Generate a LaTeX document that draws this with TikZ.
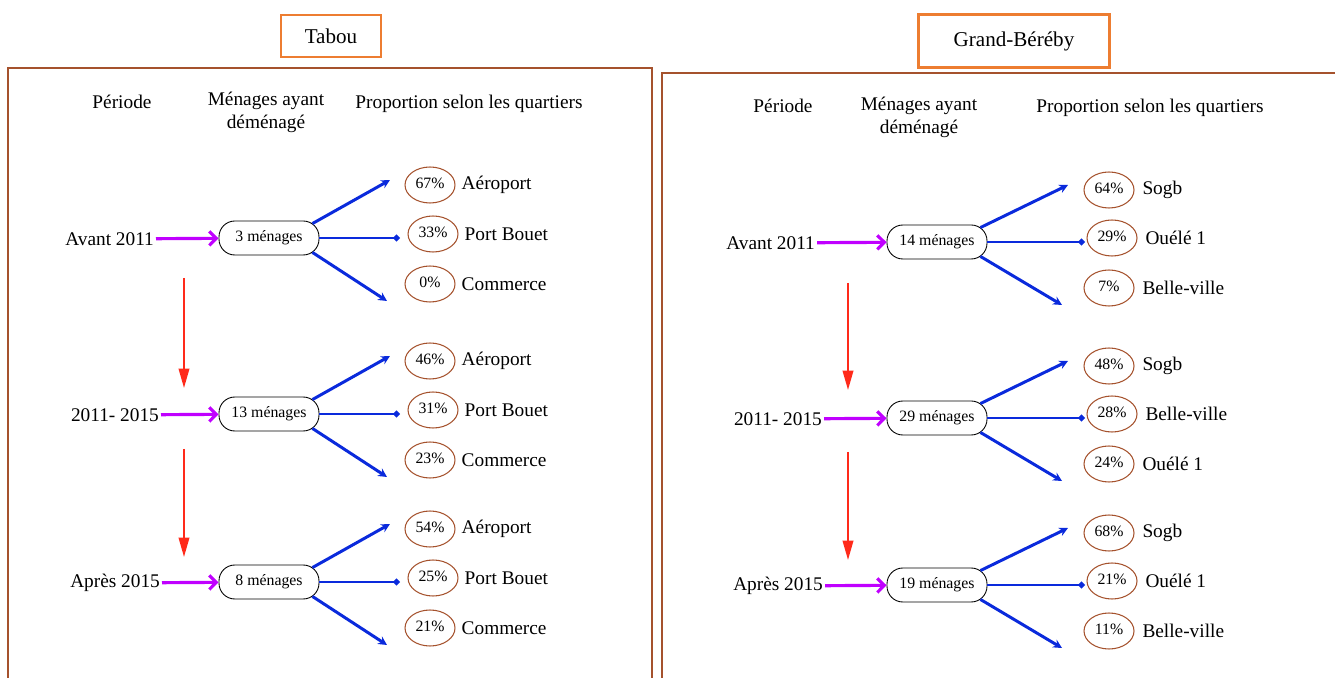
\documentclass[tikz,border=0pt]{standalone}
\usepackage{fontspec}
\setmainfont{Liberation Serif}
\usetikzlibrary{arrows.meta,positioning,shapes.geometric,calc}
\definecolor{frameBrown}{HTML}{A5522D}
\definecolor{boxOrange}{HTML}{ED7D31}
\definecolor{arrowBlue}{HTML}{0A2ADC}
\definecolor{arrowPurple}{HTML}{C000FF}
\definecolor{arrowRed}{HTML}{FF2A1A}
\begin{document}
\begin{tikzpicture}[x=0.02cm,y=-0.02cm,
    title/.style={draw=boxOrange,line width=1.6pt,inner sep=0pt,font=\fontsize{12}{14}\selectfont},
    head/.style={align=center,font=\fontsize{11}{13}\selectfont},
    period/.style={anchor=east,inner sep=1pt,font=\fontsize{11}{13}\selectfont},
    menage/.style={draw,line width=0.5pt,rounded corners=9pt,minimum width=2cm,minimum height=0.68cm,font=\fontsize{9}{11}\selectfont},
    pct/.style={ellipse,draw=frameBrown,line width=0.6pt,minimum width=1cm,minimum height=0.72cm,inner sep=0pt,font=\fontsize{9}{11}\selectfont},
    quartier/.style={font=\fontsize{11}{13}\selectfont},
    frame/.style={draw=frameBrown,line width=0.8pt},
    to quartier/.style={arrowBlue,line width=1.7pt,-{Stealth[length=5pt,width=5pt]}},
    to middle/.style={arrowBlue,line width=1.7pt,-{Diamond[length=4pt,width=4pt]}},
    to menage/.style={arrowPurple,line width=1.8pt,-{Straight Barb[length=4pt,width=8pt]}},
    next period/.style={arrowRed,line width=1.1pt,-{Triangle[length=11pt,width=6pt]}}]
    \useasboundingbox (0,0) rectangle (1335,678);

    % Tabou
    \node[title,minimum width=2cm,minimum height=0.84cm] (tabou) at (331,36) {Tabou};
    \draw[frame] (8,678) |- (652,68) -- (652,678);
    \node[head] (tper) at (122,102) {Période};
    \node[head] (tmen) at (266,112) {Ménages ayant\\déménagé};
    \node[head] (tpro) at (469,104) {Proportion selon les quartiers};

    \foreach \i/\Y/\xl/\per/\n/\pa/\pb/\pc in {1/238/156/Avant 2011/3/67/33/0,
        2/414/161/2011- 2015/13/46/31/23, 3/582/162/Après 2015/8/54/25/21}{
        \node[period] (tp\i) at (\xl,\Y+1) {\per};
        \node[menage] (tm\i) at (269,\Y) {\n{} ménages};
        \node[pct] (tea\i) at (430,\Y-53) {\raisebox{2pt}{\pa\%}};
        \node[pct] (teb\i) at (433,\Y-4) {\raisebox{2pt}{\pb\%}};
        \node[pct] (tec\i) at (430,\Y+46) {\raisebox{2pt}{\pc\%}};
        \node[quartier,right=0pt of tea\i] (tqa\i) {Aéroport};
        \node[quartier,right=0pt of teb\i] (tqb\i) {Port Bouet};
        \node[quartier,right=0pt of tec\i] (tqc\i) {Commerce};
        \coordinate (txa\i) at (390,\Y-58);
        \coordinate (txb\i) at (400,\Y);
        \coordinate (txc\i) at (387,\Y+63);
        \draw[to menage] (tp\i) -- (tm\i);
        \draw[to quartier] ($(tm\i.north east)+(-7,3)$) -- (txa\i);
        \draw[to middle] (tm\i.east) -- (txb\i);
        \draw[to quartier] ($(tm\i.south east)+(-7,-3)$) -- (txc\i);
    }
    \coordinate (tr1) at (184,278);
    \coordinate (tr2) at (184,388);
    \coordinate (tr3) at (184,449);
    \coordinate (tr4) at (184,557);
    \draw[next period] (tr1) -- (tr2);
    \draw[next period] (tr3) -- (tr4);

    % Grand-Bereby
    \node[title,minimum width=3.82cm,minimum height=1.06cm] (bereby) at (1014,41) {Grand-Béréby};
    \draw[frame] (662,678) |- (1340,73);
    \node[head] (gper) at (783,106) {Période};
    \node[head] (gmen) at (919,117) {Ménages ayant\\déménagé};
    \node[head] (gpro) at (1150,108) {Proportion selon les quartiers};

    \foreach \i/\Y/\xl/\per/\n/\pa/\pb/\pc/\qa/\qb/\qc in {1/242/817/Avant 2011/14/64/29/7/Sogb/Ouélé 1/Belle-ville,
        2/418/824/2011- 2015/29/48/28/24/Sogb/Belle-ville/Ouélé 1,
        3/585/825/Après 2015/19/68/21/11/Sogb/Ouélé 1/Belle-ville}{
        \node[period] (gp\i) at (\xl,\Y+1) {\per};
        \node[menage] (gm\i) at (937,\Y) {\n{} ménages};
        \node[pct] (gea\i) at (1109,\Y-52) {\raisebox{2pt}{\pa\%}};
        \node[pct] (geb\i) at (1112,\Y-4) {\raisebox{2pt}{\pb\%}};
        \node[pct] (gec\i) at (1109,\Y+46) {\raisebox{2pt}{\pc\%}};
        \node[quartier,right=1pt of gea\i] (gqa\i) {\qa};
        \node[quartier,right=1pt of geb\i] (gqb\i) {\qb};
        \node[quartier,right=1pt of gec\i] (gqc\i) {\qc};
        \coordinate (gxa\i) at (1068,\Y-57);
        \coordinate (gxb\i) at (1085,\Y);
        \coordinate (gxc\i) at (1062,\Y+63);
        \draw[to menage] (gp\i) -- (gm\i);
        \draw[to quartier] ($(gm\i.north east)+(-7,3)$) -- (gxa\i);
        \draw[to middle] (gm\i.east) -- (gxb\i);
        \draw[to quartier] ($(gm\i.south east)+(-7,-3)$) -- (gxc\i);
    }
    \coordinate (gr1) at (848,283);
    \coordinate (gr2) at (848,390);
    \coordinate (gr3) at (848,452);
    \coordinate (gr4) at (848,560);
    \draw[next period] (gr1) -- (gr2);
    \draw[next period] (gr3) -- (gr4);
\end{tikzpicture}
\end{document}
